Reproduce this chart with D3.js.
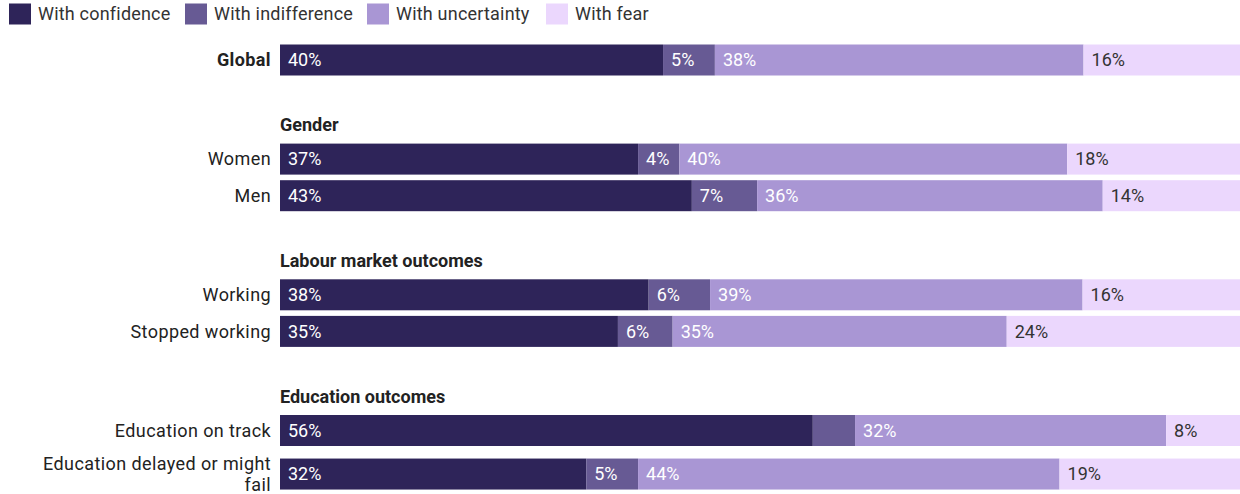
<!DOCTYPE html>
<html>
<head>
<meta charset="utf-8">
<script src="https://cdn.jsdelivr.net/npm/d3@7"></script>
<style>
  html, body { margin: 0; padding: 0; background: #fff; }
  svg { display: block; font-family: Roboto, "Noto Sans", sans-serif; }
</style>
</head>
<body>
<svg id="chart" width="1240" height="494"></svg>
<script>
// ---- data ----
const seriesNames = ["With confidence", "With indifference", "With uncertainty", "With fear"];
const groups = ["", "Gender", "Labour market outcomes", "Education outcomes"];
const categories = ["Global", "Women", "Men", "Working", "Stopped working", "Education on track", "Education delayed or might fail"];
const categoryGroup = ["", "Gender", "Gender", "Labour market outcomes", "Labour market outcomes", "Education outcomes", "Education outcomes"];
const confidence   = [39.9, 37.3, 42.9, 38.4, 35.2, 55.5, 31.9];
const indifference = [5.4, 4.3, 6.8, 6.4, 5.7, 4.4, 5.4];
const uncertainty  = [38.4, 40.4, 36.0, 38.8, 34.8, 32.4, 43.9];
const fear         = [16.3, 18.0, 14.3, 16.4, 24.3, 7.7, 18.8];
const hiddenLabels = [["Education on track", "With indifference"]];
const colors = ["#2e2459", "#675a94", "#a996d4", "#ebd7fd"];
const labelColors = ["#ffffff", "#ffffff", "#ffffff", "#333333"];

// ---- layout ----
const svg = d3.select("#chart");
const labelRight = 271;
const x = d3.scaleLinear().domain([0, 100]).range([280, 1240]);
const barH = 31;
const rowH = 36.6, titleH = 31.5, gapH = 31, twoLineRowH = 50.5;

const table = categories.map((c, i) => ({
  name: c, group: categoryGroup[i],
  values: [confidence[i], indifference[i], uncertainty[i], fear[i]]
}));

// build vertical layout
let y = 60 - rowH / 2;
const rows = [];
groups.forEach((g, gi) => {
  if (gi > 0) y += gapH;
  if (g) { rows.push({type: "title", text: g, cy: y + titleH / 2}); y += titleH; }
  table.filter(d => d.group === g).forEach(d => {
    const lines = d.name === "Education delayed or might fail" ? ["Education delayed or might", "fail"] : [d.name];
    const h = lines.length > 1 ? twoLineRowH : rowH;
    rows.push({type: "bar", d, lines, cy: y + h / 2, bold: g === ""});
    y += h;
  });
});

// legend
const legend = svg.append("g").attr("class", "legend");
const legendX = [9, 185, 367, 546];
seriesNames.forEach((s, i) => {
  const g = legend.append("g").attr("transform", `translate(${legendX[i]},3.5)`);
  g.append("rect").attr("width", 22).attr("height", 21).attr("fill", colors[i]);
  g.append("text").attr("x", 29).attr("y", 10.5).attr("dy", "0.35em")
    .attr("font-size", 18).attr("letter-spacing", 0.2).attr("fill", "#333").text(s);
});

// titles
rows.filter(r => r.type === "title").forEach(r => {
  svg.append("text").attr("x", 280).attr("y", r.cy).attr("dy", "0.35em")
    .attr("font-size", 18).attr("font-weight", "bold").attr("fill", "#222").text(r.text);
});

// bars
const stack = d3.stack().keys([0, 1, 2, 3]).value((d, k) => d.values[k]);
rows.filter(r => r.type === "bar").forEach(r => {
  const g = svg.append("g");
  const t = g.append("text").attr("text-anchor", "end").attr("font-size", 18)
    .attr("letter-spacing", 0.4)
    .attr("font-weight", r.bold ? "bold" : "normal").attr("fill", "#222");
  const lh = 20.5;
  r.lines.forEach((ln, li) => {
    t.append("tspan").attr("x", labelRight)
      .attr("y", r.cy + (li - (r.lines.length - 1) / 2) * lh)
      .attr("dy", "0.35em").text(ln);
  });
  const series = stack([r.d]);
  series.forEach((s, k) => {
    const seg = s[0];
    g.append("rect")
      .attr("x", x(seg[0])).attr("width", x(seg[1]) - x(seg[0]))
      .attr("y", r.cy - barH / 2).attr("height", barH)
      .attr("fill", colors[k]);
    const hidden = hiddenLabels.some(h => h[0] === r.d.name && h[1] === seriesNames[k]);
    if (!hidden) {
      g.append("text").attr("x", x(seg[0]) + 8).attr("y", r.cy).attr("dy", "0.35em")
        .attr("font-size", 18).attr("fill", labelColors[k])
        .text(d3.format(".0f")(r.d.values[k]) + "%");
    }
  });
});
</script>
</body>
</html>
